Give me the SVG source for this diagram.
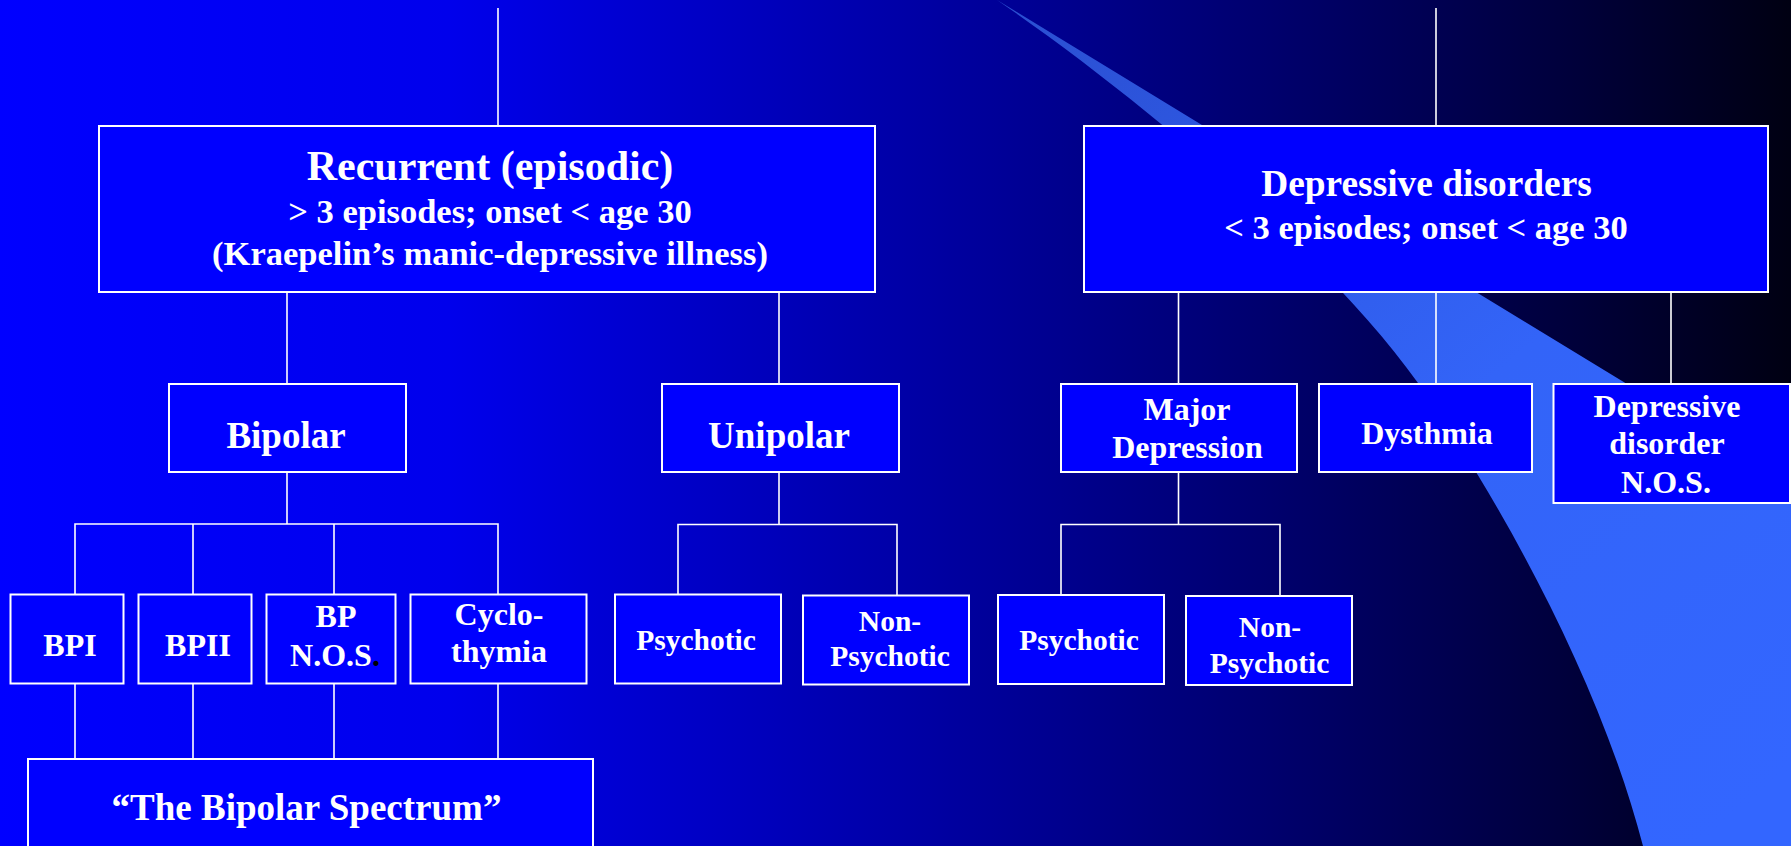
<svg xmlns="http://www.w3.org/2000/svg" width="1791" height="846" viewBox="0 0 1791 846">
<defs>
<linearGradient id="bg" x1="0" y1="0" x2="1791" y2="0" gradientUnits="userSpaceOnUse">
<stop offset="0" stop-color="#0000FF"/>
<stop offset="0.25" stop-color="#0000EC"/>
<stop offset="0.5" stop-color="#0000A8"/>
<stop offset="0.72" stop-color="#00006A"/>
<stop offset="0.88" stop-color="#00003A"/>
<stop offset="1" stop-color="#000012"/>
</linearGradient>
<linearGradient id="sw" x1="1000" y1="0" x2="1700" y2="846" gradientUnits="userSpaceOnUse">
<stop offset="0" stop-color="#2A4ED0"/>
<stop offset="0.55" stop-color="#3364F8"/>
<stop offset="1" stop-color="#3366FF"/>
</linearGradient>
<style>
.box{fill:#0000FF;stroke:#FFFFFF;stroke-width:2}
.ln{stroke:#FFFFFF;stroke-width:1.6;fill:none}
text{font-family:"Liberation Serif","Times New Roman",serif;font-weight:bold;fill:#FFFFFF;text-anchor:middle}
.f42{font-size:42px}.f37{font-size:37px}.f34{font-size:34.5px}.f32{font-size:32px}.f29{font-size:29.5px}
</style>
</defs>
<rect x="0" y="0" width="1791" height="846" fill="url(#bg)"/>
<path d="M997,0 L1791,484 L1791,846 L1643,846 C1600,680 1500,500 1418,383 C1330,260 1150,105 997,0 Z" fill="url(#sw)"/>

<g id="connectors">
<line class="ln" x1="498" y1="8" x2="498" y2="126"/>
<line class="ln" x1="1436" y1="8" x2="1436" y2="126"/>
<line class="ln" x1="287" y1="292" x2="287" y2="384"/>
<line class="ln" x1="779" y1="292" x2="779" y2="384"/>
<line class="ln" x1="1178.5" y1="292" x2="1178.5" y2="384"/>
<line class="ln" x1="1436" y1="292" x2="1436" y2="384"/>
<line class="ln" x1="1671" y1="292" x2="1671" y2="384"/>
<line class="ln" x1="287" y1="472" x2="287" y2="524"/>
<polyline class="ln" points="75,594 75,524 498,524 498,594"/>
<line class="ln" x1="193" y1="524" x2="193" y2="594"/>
<line class="ln" x1="334" y1="524" x2="334" y2="594"/>
<line class="ln" x1="779" y1="472" x2="779" y2="524"/>
<polyline class="ln" points="678,594 678,524.5 897,524.5 897,595"/>
<line class="ln" x1="1178.5" y1="472" x2="1178.5" y2="524"/>
<polyline class="ln" points="1061,595 1061,524.5 1280,524.5 1280,596"/>
<line class="ln" x1="75" y1="683" x2="75" y2="759"/>
<line class="ln" x1="193" y1="683" x2="193" y2="759"/>
<line class="ln" x1="334" y1="683" x2="334" y2="759"/>
<line class="ln" x1="498" y1="683" x2="498" y2="759"/>
</g>

<g id="recurrent">
<rect class="box" x="99" y="126" width="776" height="166"/>
<text class="f42" x="490" y="180">Recurrent (episodic)</text>
<text class="f34" x="490" y="222.5">&gt; 3 episodes; onset &lt; age 30</text>
<text class="f34" x="490" y="265">(Kraepelin’s manic-depressive illness)</text>
</g>
<g id="depressive-disorders">
<rect class="box" x="1084" y="126" width="684" height="166"/>
<text class="f37" x="1426.5" y="196" style="font-size:37.4px">Depressive disorders</text>
<text class="f34" x="1426" y="239">&lt; 3 episodes; onset &lt; age 30</text>
</g>
<g id="bipolar">
<rect class="box" x="169" y="384" width="237" height="88"/>
<text class="f37" x="286" y="448">Bipolar</text>
</g>
<g id="unipolar">
<rect class="box" x="662" y="384" width="237" height="88"/>
<text class="f37" x="779" y="448">Unipolar</text>
</g>
<g id="major-depression">
<rect class="box" x="1061" y="384" width="236" height="88"/>
<text class="f32" x="1187" y="420">Major</text>
<text class="f32" x="1187.5" y="457.5">Depression</text>
</g>
<g id="dysthmia">
<rect class="box" x="1319" y="384" width="213" height="88"/>
<text class="f32" x="1427" y="444">Dysthmia</text>
</g>
<g id="depressive-nos">
<rect class="box" x="1553.5" y="384" width="236.5" height="119"/>
<text class="f32" x="1667" y="416.5">Depressive</text>
<text class="f32" x="1667" y="453.5">disorder</text>
<text class="f32" x="1666" y="492.5">N.O.S.</text>
</g>
<g id="bpi">
<rect class="box" x="10.5" y="594.5" width="113" height="89"/>
<text class="f32" x="70" y="656">BPI</text>
</g>
<g id="bpii">
<rect class="box" x="138.5" y="594.5" width="113" height="89"/>
<text class="f32" x="198" y="656">BPII</text>
</g>
<g id="bp-nos">
<rect class="box" x="266.5" y="594.5" width="129" height="89"/>
<text class="f32" x="336" y="627.3">BP</text>
<text class="f32" x="335" y="666">N.O.S<tspan fill="#000000">.</tspan></text>
</g>
<g id="cyclothymia">
<rect class="box" x="410.5" y="594.5" width="176" height="89"/>
<text class="f32" x="499" y="625">Cyclo-</text>
<text class="f32" x="499" y="661.5">thymia</text>
</g>
<g id="uni-psychotic">
<rect class="box" x="615" y="594.5" width="166" height="89"/>
<text class="f29" x="696" y="649.5">Psychotic</text>
</g>
<g id="uni-non-psychotic">
<rect class="box" x="803" y="595.5" width="166" height="89"/>
<text class="f29" x="890" y="630.7">Non-</text>
<text class="f29" x="890" y="665.7">Psychotic</text>
</g>
<g id="dep-psychotic">
<rect class="box" x="998" y="595" width="166" height="89"/>
<text class="f29" x="1079" y="650">Psychotic</text>
</g>
<g id="dep-non-psychotic">
<rect class="box" x="1186" y="596" width="166" height="89"/>
<text class="f29" x="1270" y="637.3">Non-</text>
<text class="f29" x="1269.5" y="673.3">Psychotic</text>
</g>
<g id="bipolar-spectrum">
<rect class="box" x="28" y="759" width="565" height="120"/>
<text class="f37" x="306.5" y="820">“The Bipolar Spectrum”</text>
</g>
</svg>
